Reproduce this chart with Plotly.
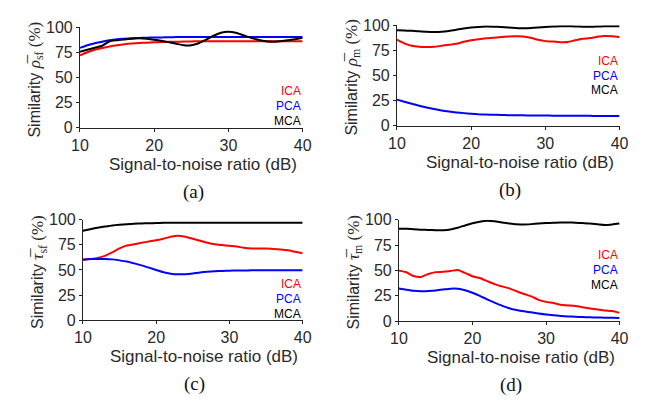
import plotly.graph_objects as go

W, H = 649, 402

snr = list(range(10, 41))

# Panel (a): rho_sf
ica_a = [72, 75, 77.5, 79.3, 80.8, 82, 83, 83.7, 84.2, 84.6, 85, 85.2, 85.4, 85.5, 85.7, 85.8,
         86, 86, 86, 86, 86, 86, 86, 86, 86, 86, 86, 86, 86, 86, 86]
pca_a = [79.4, 82, 84, 85.5, 87, 88, 88.5, 89, 89.3, 89.5, 89.7, 89.8, 90, 90.1, 90.3, 90.3,
         90.3, 90.3, 90.3, 90.3, 90.3, 90.3, 90.3, 90.3, 90.3, 90.3, 90.3, 90.3, 90.3, 90.3, 90.3]
mca_a = [75.5, 77.5, 79.5, 81.5, 86, 87, 87.8, 88.5, 89, 88.5, 87.5, 86.5, 85, 83.5, 82, 82,
         84, 87.5, 91.5, 94.5, 95.5, 94.5, 92, 89.5, 87.5, 86, 85.5, 86, 87, 88, 89.5]

# Panel (b): rho_m
ica_b = [85.7, 82, 79.5, 78.5, 78.3, 78.5, 79.5, 80.5, 81.5, 83.5, 85, 86, 87, 87.5, 88.2, 88.7,
         89, 88.8, 87.5, 85.5, 84.2, 83.8, 83.2, 83.3, 85, 86.5, 87.2, 88.5, 89.3, 89, 88]
pca_b = [26, 24, 22, 20, 18.3, 16.7, 15.3, 14.2, 13.3, 12.6, 12, 11.5, 11.2, 11, 10.8, 10.6,
         10.5, 10.4, 10.3, 10.2, 10.2, 10.1, 10, 10, 10, 9.9, 9.9, 9.8, 9.8, 9.7, 9.7]
mca_b = [95, 94.7, 94.5, 94, 93.5, 93.3, 93.5, 94.3, 95.5, 96.8, 97.7, 98.3, 98.7, 98.6, 98.3, 97.8,
         97.3, 97, 97.3, 97.8, 98.3, 98.7, 99, 99, 98.8, 98.6, 98.5, 98.7, 99, 99, 99]

# Panel (c): tau_sf
ica_c = [60.4, 60.8, 62, 64, 67.5, 71.5, 74.3, 75.5, 77, 78.3, 79.5, 81, 83, 84, 83, 81,
         79, 77, 75.5, 74.7, 74, 73.4, 72, 71.3, 71.2, 71.2, 70.8, 70.3, 69.5, 68, 66.5]
pca_c = [60, 60.8, 60.8, 60.8, 60.5, 59.5, 58.3, 56.5, 54.5, 52.3, 50, 47.7, 46.3, 45.7, 45.8, 46.5,
         47.5, 48.2, 48.7, 49, 49.3, 49.5, 49.5, 49.6, 49.6, 49.7, 49.7, 49.7, 49.8, 49.8, 49.8]
mca_c = [89, 90.5, 92, 93.2, 94.3, 95, 95.5, 95.9, 96.2, 96.4, 96.6, 96.8, 96.8, 96.8, 96.8, 96.8,
         96.8, 96.8, 96.8, 96.8, 96.8, 96.8, 96.8, 96.8, 96.8, 96.8, 96.8, 96.8, 96.8, 96.8, 96.8]

# Panel (d): tau_m
ica_d = [49.8, 48.2, 44.5, 43.6, 46.5, 48.3, 48.6, 49.4, 50.5, 47.5, 44.3, 42.5, 39.5, 36.5, 34.3, 32.3,
         29.5, 26.8, 24.5, 21, 19, 17.8, 16.2, 15.5, 15, 13.8, 12.5, 11.5, 10.5, 10, 8.2]
pca_d = [32.2, 31, 30, 29.5, 29.8, 30.3, 31.2, 32, 32, 30.5, 28, 25, 21.5, 18.3, 15.3, 12.8,
         11, 9.7, 8.7, 7.5, 6.5, 5.8, 5.2, 4.7, 4.3, 4, 3.8, 3.6, 3.4, 3.3, 3.2]
mca_d = [91, 91, 90.5, 90.1, 89.8, 89.6, 89.6, 90.3, 92, 94.3, 96.5, 98, 99, 98.5, 97.3, 96.3,
         95.5, 95.2, 95.6, 96.2, 96.6, 96.9, 97.2, 97.2, 97, 96.6, 96.2, 95.5, 94.8, 95.3, 96.2]

x_ticks = [10, 20, 30, 40]
y_ticks = [0, 25, 50, 75, 100]
methods = ["ICA", "PCA", "MCA"]
colors = {"ICA": "#ff0000", "PCA": "#0000ff", "MCA": "#000000"}
panel_labels = ["(a)", "(b)", "(c)", "(d)"]
ylabel_sym = ["\u03c1\u0305", "\u03c1\u0305", "\u03c4\u0305", "\u03c4\u0305"]
ylabel_sub = ["sf", "m", "sf", "m"]

panels = [
    {"ICA": ica_a, "PCA": pca_a, "MCA": mca_a},
    {"ICA": ica_b, "PCA": pca_b, "MCA": mca_b},
    {"ICA": ica_c, "PCA": pca_c, "MCA": mca_c},
    {"ICA": ica_d, "PCA": pca_d, "MCA": mca_d},
]

# pixel geometry of each plot area (left, right, top, bottom)
boxes = [(73, 302, 20, 125), (399, 628, 18, 123), (76, 302, 221, 326), (401, 628, 221, 327)]

SANS = "Liberation Sans, Arial, sans-serif"
SERIF = "Liberation Serif, Times New Roman, serif"

fig = go.Figure()
layout = dict(width=W, height=H, margin=dict(l=0, r=0, t=0, b=0),
              paper_bgcolor="white", plot_bgcolor="white", showlegend=False)
annotations = []

for i, (data, box) in enumerate(zip(panels, boxes)):
    n = "" if i == 0 else str(i + 1)
    l, r, t, b = box
    xa = dict(domain=[l / W, r / W], range=[10, 40], tickvals=x_ticks,
              showline=True, linecolor="#222", linewidth=1, ticks="outside",
              ticklen=3, tickcolor="#222", showgrid=False, zeroline=False,
              tickfont=dict(family=SANS, size=16, color="#2a2a2a"),
              anchor="y" + n)
    ya = dict(domain=[1 - b / H, 1 - t / H], range=[0, 100], tickvals=y_ticks,
              showline=True, linecolor="#222", linewidth=1, ticks="outside",
              ticklen=3, tickcolor="#222", showgrid=False, zeroline=False,
              tickfont=dict(family=SANS, size=16, color="#2a2a2a"),
              anchor="x" + n)
    layout["xaxis" + n] = xa
    layout["yaxis" + n] = ya
    for m in methods:
        fig.add_trace(go.Scatter(x=snr, y=data[m], mode="lines",
                                 line=dict(color=colors[m], width=2, shape="spline", smoothing=0.6),
                                 xaxis="x" + n, yaxis="y" + n, name=m, cliponaxis=False))
    # legend text
    leg_top = b - 38 if i in (0, 2) else t + 37
    for k, m in enumerate(methods):
        annotations.append(dict(x=r / W, y=1 - (leg_top + 15.5 * k) / H, xref="paper", yref="paper",
                                text=m, showarrow=False, xanchor="right", yanchor="middle",
                                font=dict(family=SANS, size=12, color=colors[m])))
    # y title
    ytitle = ("Similarity <span style='font-family:Liberation Serif;font-size:17px'><i>" + ylabel_sym[i] +
              "</i><sub>" + ylabel_sub[i] + "</sub> (%)</span>")
    annotations.append(dict(x=(l - 45) / W, y=1 - ((t + b) / 2 + 2) / H, xref="paper", yref="paper",
                            text=ytitle, textangle=-90, showarrow=False,
                            xanchor="center", yanchor="middle",
                            font=dict(family=SANS, size=16, color="#2a2a2a")))
    # x title
    annotations.append(dict(x=((l + r) / 2 + 12) / W, y=1 - (b + 38) / H, xref="paper", yref="paper",
                            text="Signal-to-noise ratio (dB)", showarrow=False,
                            xanchor="center", yanchor="middle",
                            font=dict(family=SANS, size=17, color="#2a2a2a")))
    # panel label
    annotations.append(dict(x=((l + r) / 2 + 2) / W, y=1 - (b + 67) / H, xref="paper", yref="paper",
                            text=panel_labels[i], showarrow=False,
                            xanchor="center", yanchor="middle",
                            font=dict(family=SERIF, size=19, color="#111")))

layout["annotations"] = annotations
fig.update_layout(**layout)
fig.write_html("out.html")
